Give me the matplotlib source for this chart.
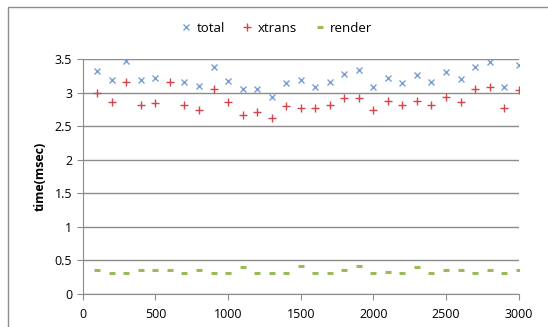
import numpy as np
import matplotlib
matplotlib.use('Agg')
from matplotlib import pyplot as plt
from matplotlib.patches import Rectangle

plt.rcParams['font.family'] = ['Open Sans', 'DejaVu Sans']

# data
xs = list(range(100, 3100, 100))
total = [3.33, 3.19, 3.48, 3.19, 3.22, np.nan, 3.16, 3.10, 3.38, 3.17,
         3.06, 3.06, 2.94, 3.14, 3.19, 3.09, 3.16, 3.28, 3.34, 3.09,
         3.22, 3.15, 3.26, 3.16, 3.31, 3.21, 3.39, 3.46, 3.09, 3.41]
xtrans = [2.99, 2.86, 3.16, 2.82, 2.84, 3.16, 2.82, 2.74, 3.06, 2.86,
          2.67, 2.72, 2.62, 2.81, 2.77, 2.77, 2.82, 2.92, 2.92, 2.75,
          2.88, 2.82, 2.88, 2.82, 2.94, 2.86, 3.06, 3.09, 2.77, 3.04]
render = [0.35, 0.31, 0.31, 0.36, 0.36, 0.35, 0.31, 0.36, 0.31, 0.31,
          0.40, 0.31, 0.31, 0.31, 0.42, 0.31, 0.31, 0.35, 0.42, 0.31,
          0.33, 0.31, 0.40, 0.31, 0.36, 0.35, 0.31, 0.36, 0.31, 0.35]

fig = plt.figure(figsize=(5.48, 3.27), dpi=100)
ax = fig.add_axes([0.151, 0.1018, 0.7955, 0.7169])

# outer chart border
fig.patches.append(Rectangle((8/548, -0.1), 1.2, 1 - 7/327 + 0.1,
                             transform=fig.transFigure, fill=False,
                             edgecolor='#8c8c8c', lw=1))

ax.plot(xs, total, 'x', c='#7b9fd3', ms=4.5, mew=1.0, label='total')
ax.plot(xs, xtrans, '+', c='#d0464a', ms=5.5, mew=1.0, label='xtrans')
ax.plot(xs, render, '_', c='#9bbb59', ms=5, mew=2.2, label='render')

ax.set_xlim(0, 3000)
ax.set_ylim(0, 3.5)
ax.set_xticks(range(0, 3001, 500))
ax.set_yticks(np.arange(0, 3.51, 0.5))
ax.set_yticklabels(['0', '0.5', '1', '1.5', '2', '2.5', '3', '3.5'])
ax.grid(axis='y', color='#8c8c8c', lw=1)
ax.set_axisbelow(True)
for s in ['top', 'right']:
    ax.spines[s].set_visible(False)
for s in ['left', 'bottom']:
    ax.spines[s].set_color('#8c8c8c')
ax.tick_params(axis='both', colors='#8c8c8c', labelcolor='black',
               labelsize=9, length=4, direction='out')
ax.tick_params(axis='x', pad=6)
ax.set_ylabel('time(msec)', fontsize=9, fontweight='bold', labelpad=6)

fig.legend(loc='center', bbox_to_anchor=(0.505, 0.913), ncol=3, frameon=False,
           fontsize=9.5, handlelength=0.8, handletextpad=0.4, columnspacing=1.3)

fig.savefig('out.png', dpi=100)
